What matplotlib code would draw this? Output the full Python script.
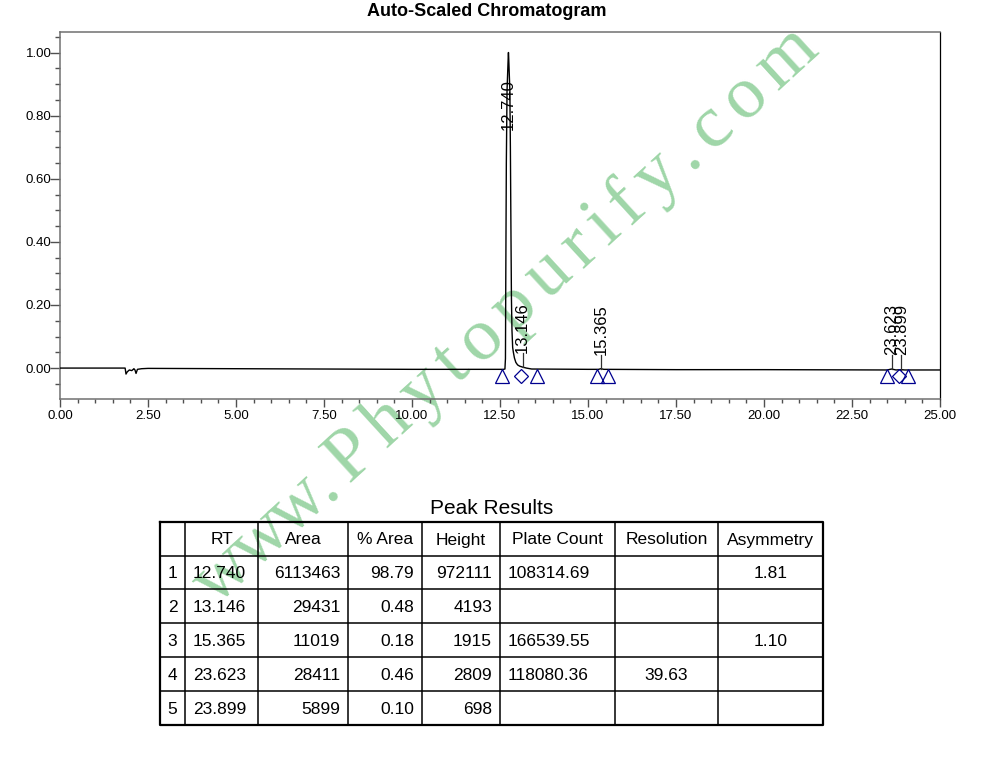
import matplotlib
matplotlib.use("Agg")
import matplotlib.pyplot as plt
from matplotlib.ticker import MultipleLocator
from matplotlib.font_manager import FontProperties, findfont, get_font
import numpy as np

plt.rcParams['font.family'] = ['Liberation Sans', 'DejaVu Sans']

# chromatogram trace (minutes, AU scaled to the main peak)
time = [0.00, 1.40, 1.85, 1.875, 1.91, 1.97, 2.04, 2.08, 2.10, 2.13, 2.16, 2.20, 2.32,
        2.50, 5.00, 7.50, 10.00, 12.50, 12.60, 12.64, 12.655, 12.665, 12.68, 12.70,
        12.735, 12.74, 12.745, 12.78, 12.795, 12.81, 12.825, 12.84, 12.86, 12.88, 12.91,
        12.95, 13.00, 13.06, 13.146, 13.25, 13.40, 15.00, 15.30, 15.365, 15.45, 17.50,
        20.00, 23.50, 23.623, 23.75, 23.899, 24.00, 25.00]
signal = [0.000, 0.000, 0.000, -0.019, -0.012, -0.006, -0.008, -0.004, -0.002, -0.006,
          -0.017, -0.004, -0.002, -0.001, -0.002, -0.003, -0.004, -0.004, -0.004, -0.003,
          0.030, 0.300, 0.650, 0.880, 0.990, 1.000, 0.990, 0.880, 0.700, 0.450, 0.220,
          0.120, 0.065, 0.050, 0.032, 0.018, 0.010, 0.006, 0.003, 0.000, -0.003, -0.004,
          -0.004, -0.002, -0.004, -0.005, -0.005, -0.006, -0.003, -0.006, -0.005, -0.006,
          -0.006]

# peak table
peak_no = ['1', '2', '3', '4', '5']
rt = [12.740, 13.146, 15.365, 23.623, 23.899]
rt_txt = ['12.740', '13.146', '15.365', '23.623', '23.899']
area = ['6113463', '29431', '11019', '28411', '5899']
pct_area = ['98.79', '0.48', '0.18', '0.46', '0.10']
height = ['972111', '4193', '1915', '2809', '698']
plate_count = ['108314.69', '', '166539.55', '118080.36', '']
resolution = ['', '', '', '39.63', '']
asymmetry = ['1.81', '', '1.10', '', '']
peak_apex = [1.000, 0.003, -0.002, -0.003, -0.005]

# integration marks
tri_marks = [12.57, 13.54, 15.25, 15.58, 23.49, 24.10]
dia_marks = [13.10, 23.84]

watermark = 'www.Phytopurify.com'

W, H = 988, 759
fig = plt.figure(figsize=(W / 100, H / 100), dpi=100)

# watermark, letter-spaced, behind everything else
wm_size = 54
wm_angle = 42.5
wm_start = (215, H - 606)
wm_prop = FontProperties(family='Liberation Serif')
wm_font = get_font(findfont(wm_prop))
wm_font.set_size(wm_size, 100)
ca, sa = np.cos(np.radians(wm_angle)), np.sin(np.radians(wm_angle))
pos = 0.0
for ch in watermark:
    fig.text((wm_start[0] + pos * ca) / W, (wm_start[1] + pos * sa) / H, ch,
             rotation=wm_angle, rotation_mode='anchor', ha='left', va='baseline',
             fontsize=wm_size, family=['Liberation Serif', 'DejaVu Serif'],
             color='#9fd6a8', zorder=-5)
    track = -3.0 if ch == 'w' else 9.5
    pos += wm_font.load_char(ord(ch)).linearHoriAdvance / 65536 + track

ax = fig.add_axes([60 / W, 1 - 399 / H, 880 / W, 367 / H])
ax.patch.set_alpha(0)
ax.plot(time, signal, color='black', lw=1.0, zorder=3)

mark_y = -0.025
blue = '#00008f'
ax.plot(tri_marks, [mark_y] * len(tri_marks), ls='none', marker='^', ms=9.5,
        mfc='none', mec=blue, mew=0.9, zorder=4)
ax.plot(dia_marks, [mark_y] * len(dia_marks), ls='none', marker='D', ms=6.8,
        mfc='none', mec=blue, mew=0.9, zorder=4)

for x, a, s in zip(rt, peak_apex, rt_txt):
    ly = min(a + 0.045, 0.755)
    if ly > a:
        ax.plot([x, x], [a, ly], color='#303030', lw=0.9, zorder=3)
    ax.text(x, ly, s, rotation=90, ha='center', va='bottom', fontsize=12, zorder=5)

ax.set_xlim(0, 25)
ax.set_ylim(-0.098, 1.065)
ax.xaxis.set_major_locator(MultipleLocator(2.5))
ax.xaxis.set_minor_locator(MultipleLocator(0.5))
ax.yaxis.set_major_locator(MultipleLocator(0.2))
ax.yaxis.set_minor_locator(MultipleLocator(0.05))
ax.xaxis.set_major_formatter(lambda v, p: f'{v:.2f}')
ax.yaxis.set_major_formatter(lambda v, p: f'{v:.2f}')
ax.tick_params(axis='x', which='major', length=6, width=1, color='#505050',
               labelsize=9.5, pad=2)
ax.tick_params(axis='x', which='minor', length=3, width=1, color='#505050')
ax.tick_params(axis='y', which='major', length=7, width=1, color='#505050',
               labelsize=9.5, pad=-1)
ax.tick_params(axis='y', which='minor', length=3.5, width=1, color='#505050')
for side in ['top', 'left', 'bottom']:
    ax.spines[side].set_color('#707070')
    ax.spines[side].set_linewidth(1.1)
ax.spines['right'].set_color('black')
ax.spines['right'].set_linewidth(0.9)

fig.text(487 / W, 1 - 12 / H, 'Auto-Scaled Chromatogram', ha='center', va='center',
         fontsize=13, fontweight='bold')

# peak results table, drawn in pixel coordinates
tx = fig.add_axes([0, 0, 1, 1])
tx.patch.set_alpha(0)
tx.set_xlim(0, W)
tx.set_ylim(H, 0)
tx.axis('off')

cols = [160, 185, 258, 348, 422, 500, 615, 718, 823]
rows = [522, 556, 589, 623, 657, 691, 725]
headers = ['', 'RT', 'Area', '% Area', 'Height', 'Plate Count', 'Resolution', 'Asymmetry']
columns = [peak_no, rt_txt, area, pct_area, height, plate_count, resolution, asymmetry]
align = ['center', 'left', 'right', 'right', 'right', 'left', 'center', 'center']

tx.text(491.5, 508, 'Peak Results', ha='center', va='center', fontsize=15)
for x in cols[1:-1]:
    tx.plot([x, x], [rows[0], rows[-1]], color='black', lw=1.1)
for y in rows[1:-1]:
    tx.plot([cols[0], cols[-1]], [y, y], color='black', lw=1.1)
tx.plot([cols[0], cols[-1], cols[-1], cols[0], cols[0]],
        [rows[0], rows[0], rows[-1], rows[-1], rows[0]], color='black', lw=1.6)

for j, (head, vals, al) in enumerate(zip(headers, columns, align)):
    x0, x1 = cols[j], cols[j + 1]
    tx.text((x0 + x1) / 2, (rows[0] + rows[1]) / 2 + 1, head, ha='center',
            va='center', fontsize=12.5)
    for i, v in enumerate(vals):
        yc = (rows[i + 1] + rows[i + 2]) / 2 + 1
        if al == 'left':
            xp = x0 + 8
        elif al == 'right':
            xp = x1 - 8
        else:
            xp = (x0 + x1) / 2
        tx.text(xp, yc, v, ha=al, va='center', fontsize=12.5)

fig.savefig('out.png', dpi=100)
